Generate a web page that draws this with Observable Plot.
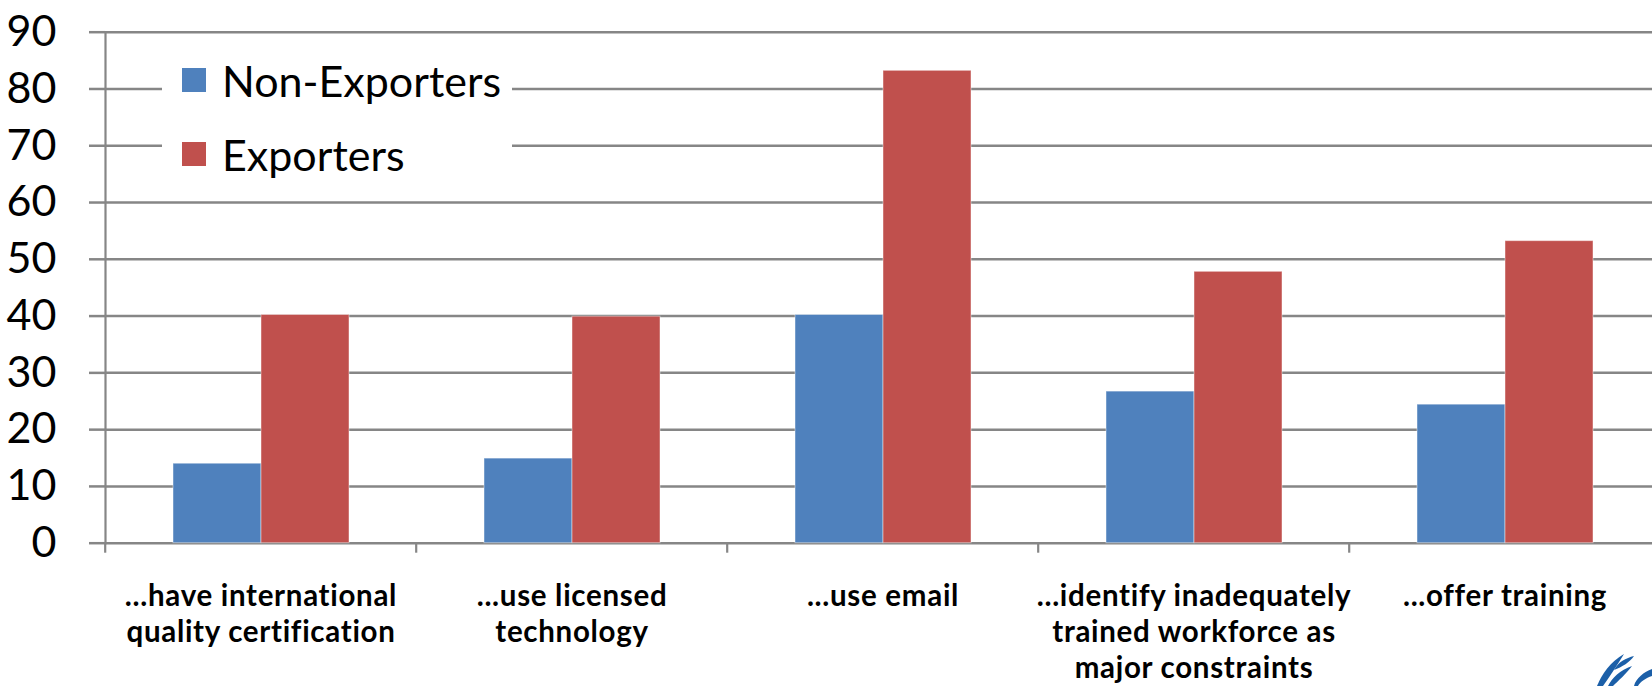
<!DOCTYPE html>
<html>
<head>
<meta charset="utf-8">
<script src="https://cdn.jsdelivr.net/npm/d3@7"></script>
<script src="https://cdn.jsdelivr.net/npm/@observablehq/plot@0.6"></script>
<style>
  html, body { margin: 0; padding: 0; background: #fff; overflow: hidden; }
  #chart { position: relative; width: 1652px; height: 686px; }
  #chart svg g[aria-label="fx-axis tick label"] { letter-spacing: 0.7px; }
  #legend {
    position: absolute; left: 162px; top: 46px; width: 350px; height: 142px;
    background: #fff; font-family: Lato, "Open Sans", sans-serif; font-size: 43px; color: #000;
  }
  #legend .item { position: absolute; left: 20px; height: 48px; display: flex; align-items: center; white-space: nowrap; }
  #legend .swatch { width: 24px; height: 24px; margin-right: 16px; flex: none; }
  #emblem { position: absolute; left: 1594px; top: 650px; }
</style>
</head>
<body>
<div id="chart"></div>
<script>
// Share of firms (%) by export status
const categories = [
  "...have international quality certification",
  "...use licensed technology",
  "...use email",
  "...identify inadequately trained workforce as major constraints",
  "...offer training"
];
const tickLabels = [
  "...have international\nquality certification",
  "...use licensed\ntechnology",
  "...use email",
  "...identify inadequately\ntrained workforce as\nmajor constraints",
  "...offer training"
];
const series = ["Non-Exporters", "Exporters"];
const nonExporters = [14.0, 14.9, 40.2, 26.7, 24.4];
const exporters = [40.2, 39.9, 83.2, 47.8, 53.2];
const colors = ["#4F81BD", "#C0504D"];
const yTicks = [0, 10, 20, 30, 40, 50, 60, 70, 80, 90];

const rows = categories.flatMap((c, i) => [
  {category: c, series: series[0], value: nonExporters[i]},
  {category: c, series: series[1], value: exporters[i]}
]);

// layout
const W = 1652, H = 686;
const mL = 103, mR = -9, mT = 31.7, mB = 143.3;
const band = (W - mL - mR) / categories.length;
const axisGray = "#868686";

const chart = Plot.plot({
  width: W,
  height: H,
  marginTop: mT,
  marginBottom: mB,
  marginLeft: mL,
  marginRight: mR,
  style: {fontFamily: "Lato, 'Open Sans', sans-serif", background: "white", overflow: "visible", color: "black"},
  fx: {domain: categories, padding: 0, label: null},
  x: {domain: series, paddingInner: 0, paddingOuter: 0.75, axis: null},
  y: {domain: [0, 90], label: null},
  color: {domain: series, range: colors},
  marks: [
    Plot.gridY(yTicks, {stroke: axisGray, strokeOpacity: 1, strokeWidth: 2.5}),
    Plot.barY(rows, {
      fx: "category", x: "series", y: "value", fill: "series",
      stroke: "white", strokeOpacity: 0.45, strokeWidth: 1
    }),
    Plot.frame({anchor: "left", facetAnchor: "left", stroke: axisGray, strokeWidth: 2.2}),
    Plot.axisY(yTicks, {
      tickSize: 16, tickPadding: 33, stroke: axisGray, strokeWidth: 2.5,
      fill: "black", fontSize: 43, label: null
    }),
    // category separators below the baseline
    Plot.axisFx({anchor: "bottom", tickSize: 10, dx: -band / 2, fill: "none", stroke: axisGray, strokeWidth: 2.2, label: null}),
    Plot.axisFx({
      anchor: "bottom", tickSize: 0, tickPadding: 37, fontSize: 29.5, fontWeight: "bold",
      lineHeight: 1.22, fill: "black", label: null,
      tickFormat: d => tickLabels[categories.indexOf(d)]
    })
  ]
});

const root = document.getElementById("chart");
root.appendChild(chart);

// legend box inside the plot area
const legend = document.createElement("div");
legend.id = "legend";
series.forEach((s, i) => {
  const item = document.createElement("div");
  item.className = "item";
  item.style.top = (10 + i * 74) + "px";
  const sw = document.createElement("span");
  sw.className = "swatch";
  sw.style.background = colors[i];
  const label = document.createElement("span");
  label.textContent = s;
  item.appendChild(sw);
  item.appendChild(label);
  legend.appendChild(item);
});
root.appendChild(legend);

// corner emblem (partially cut off at the page edge)
const ns = "http://www.w3.org/2000/svg";
const emblem = document.createElementNS(ns, "svg");
emblem.setAttribute("id", "emblem");
emblem.setAttribute("width", "58");
emblem.setAttribute("height", "36");
emblem.innerHTML = `
  <g fill="#1B5FA8">
    <path d="M3 36 C 8 24, 16 12, 30 4 C 24 14, 16 26, 9 36 Z"/>
    <path d="M14 36 C 18 28, 26 20, 38 16 C 32 24, 24 31, 19 36 Z"/>
    <path d="M20 20 C 24 12, 32 8, 40 6 C 36 12, 28 17, 20 20 Z"/>
    <path d="M40 36 C 42 28, 50 22, 58 19 L 58 26 C 52 28, 46 32, 44 36 Z"/>
  </g>`;
root.appendChild(emblem);
</script>
</body>
</html>
